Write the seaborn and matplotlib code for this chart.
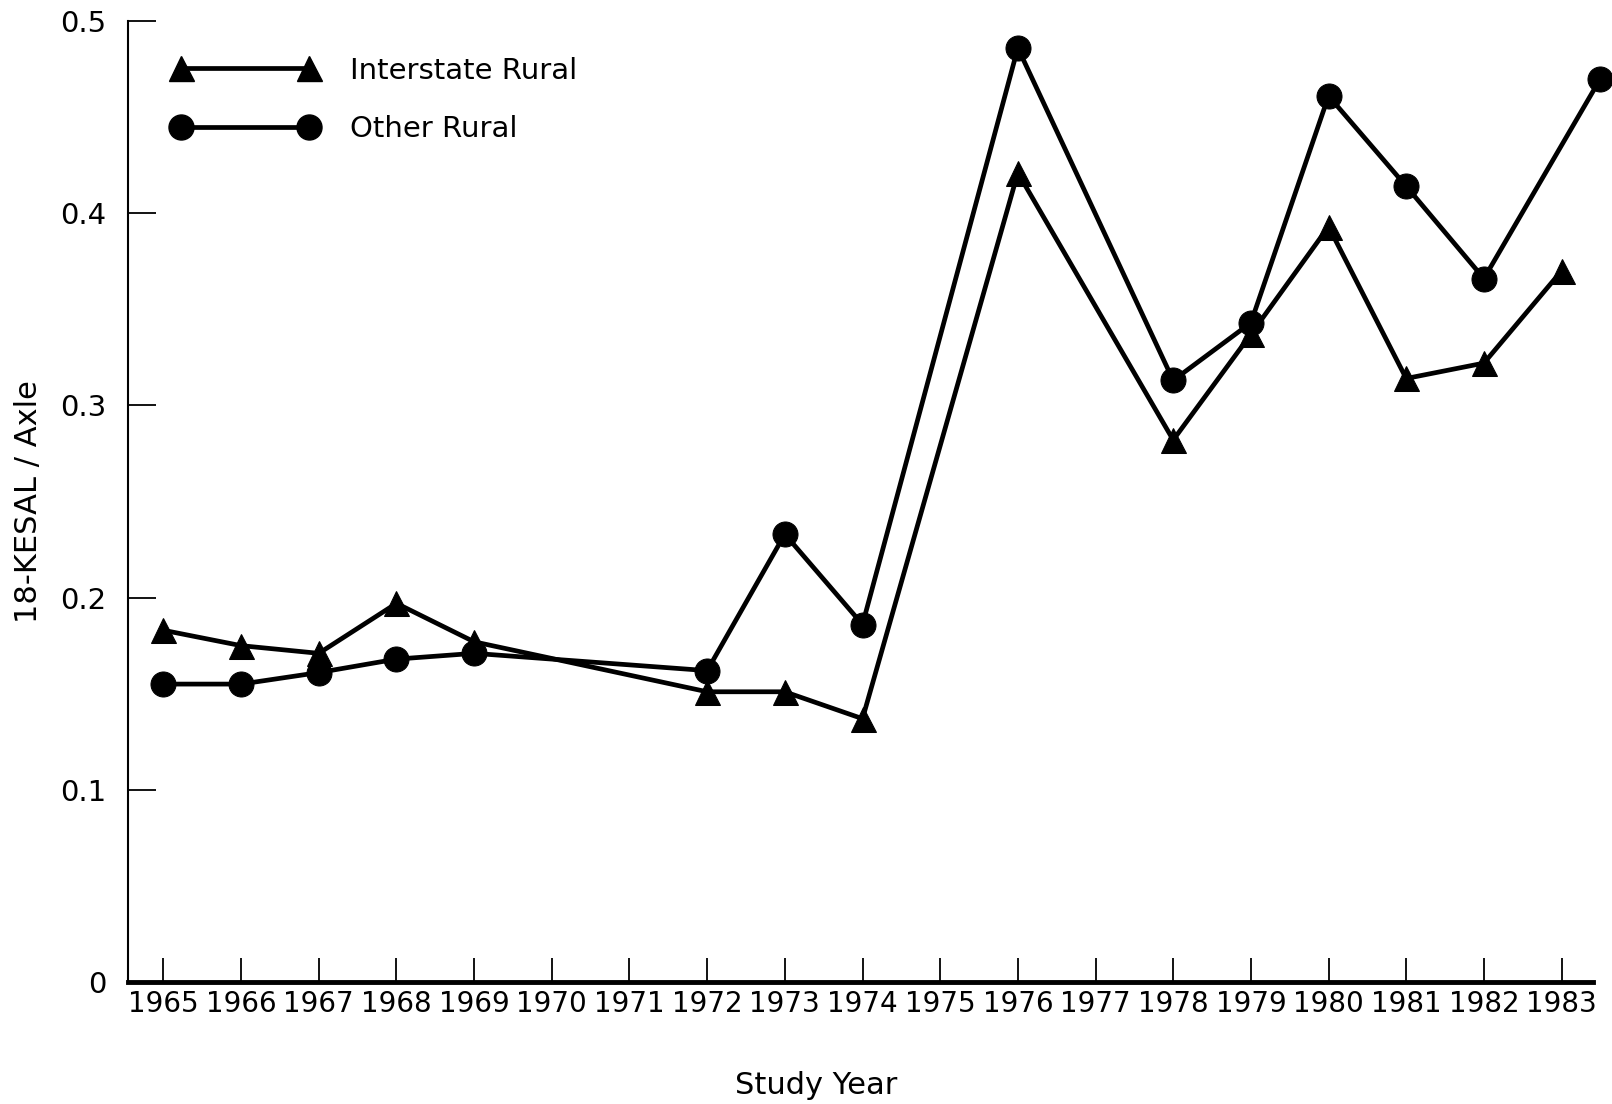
import matplotlib
matplotlib.use("Agg")
import matplotlib.pyplot as plt
import seaborn as sns
import pandas as pd
from matplotlib.lines import Line2D

# ---- data ----
years_interstate = [1965, 1966, 1967, 1968, 1969, 1972, 1973, 1974, 1976, 1978, 1979, 1980, 1981, 1982, 1983]
interstate_rural = [0.183, 0.175, 0.171, 0.197, 0.177, 0.151, 0.151, 0.137, 0.421, 0.282, 0.337, 0.393, 0.314, 0.322, 0.370]

years_other = [1965, 1966, 1967, 1968, 1969, 1972, 1973, 1974, 1976, 1978, 1979, 1980, 1981, 1982, 1983.5]
other_rural = [0.155, 0.155, 0.161, 0.168, 0.171, 0.162, 0.233, 0.186, 0.486, 0.313, 0.343, 0.461, 0.414, 0.366, 0.470]

tick_years = list(range(1965, 1984))
y_ticks = [0, 0.1, 0.2, 0.3, 0.4, 0.5]
y_tick_labels = ["0", "0.1", "0.2", "0.3", "0.4", "0.5"]

series_names = ["Interstate Rural", "Other Rural"]

# ---- build frames ----
df_i = pd.DataFrame({"year": years_interstate, "value": interstate_rural})
df_o = pd.DataFrame({"year": years_other, "value": other_rural})

sns.set_style("ticks")
plt.rcParams["font.family"] = ["DejaVu Sans"]
plt.rcParams["text.color"] = "black"
plt.rcParams["axes.labelcolor"] = "black"
plt.rcParams["xtick.color"] = "black"
plt.rcParams["ytick.color"] = "black"

fig = plt.figure(figsize=(16.12, 11.04), dpi=100)
ax = fig.add_axes([0.0797, 0.1105, 0.9083, 0.8705])

lw = 3.4
ms = 18
sns.lineplot(data=df_i, x="year", y="value", ax=ax, color="black", linewidth=lw,
             marker="^", markersize=ms, markeredgecolor="black", markerfacecolor="black",
             clip_on=False, zorder=3)
sns.lineplot(data=df_o, x="year", y="value", ax=ax, color="black", linewidth=lw,
             marker="o", markersize=ms, markeredgecolor="black", markerfacecolor="black",
             clip_on=False, zorder=3)

ax.set_xlim(1964.55, 1983.4)
ax.set_ylim(0, 0.5)

ax.set_xticks(tick_years)
ax.set_xticklabels([str(y) for y in tick_years], fontsize=20)
ax.set_yticks(y_ticks)
ax.set_yticklabels(y_tick_labels, fontsize=21)

ax.tick_params(axis="x", direction="in", length=17, width=1.3, pad=6, colors="black")
ax.tick_params(axis="y", direction="in", length=20, width=1.3, pad=16, colors="black")

for s in ["top", "right"]:
    ax.spines[s].set_visible(False)
ax.spines["left"].set_linewidth(1.5)
ax.spines["bottom"].set_linewidth(3.5)
ax.spines["left"].set_color("black")
ax.spines["bottom"].set_color("black")

ax.set_xlabel("Study Year", fontsize=22, labelpad=38, color="black")
ax.xaxis.label.set_x(0.47)
ax.set_ylabel("18-KESAL / Axle", fontsize=22, labelpad=12, color="black")

handles = [
    Line2D([0], [0], color="black", lw=lw, marker="^", markersize=ms),
    Line2D([0], [0], color="black", lw=lw, marker="o", markersize=ms),
]
leg = ax.legend(handles, series_names, loc="upper left", numpoints=2, frameon=False,
                fontsize=21, handlelength=5.0, handletextpad=1.1, labelspacing=1.05,
                bbox_to_anchor=(0.022, 0.975), borderaxespad=0)
for t in leg.get_texts():
    t.set_color("black")

fig.savefig("out.png", dpi=100, facecolor="white")
